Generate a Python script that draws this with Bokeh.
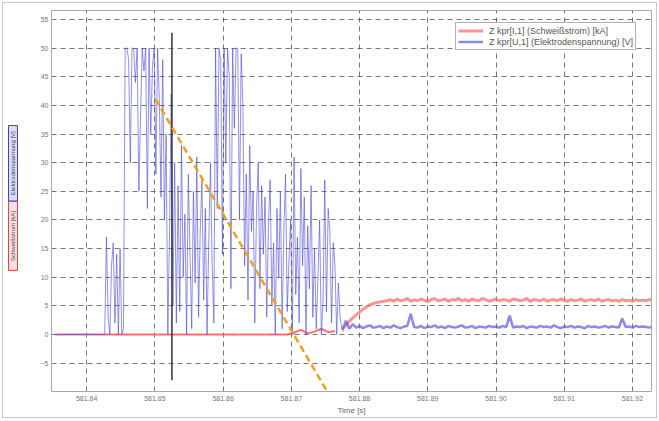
import numpy as np
from bokeh.plotting import figure
from bokeh.layouts import row
from bokeh.models import Range1d, FixedTicker, Arrow, Legend, LegendItem
from bokeh.embed import file_html
from bokeh.resources import INLINE

# ---------------- data ----------------
x_ticks = [581.84, 581.85, 581.86, 581.87, 581.88, 581.89, 581.90, 581.91, 581.92]
x_tick_labels = ["581.84", "581.85", "581.86", "581.87", "581.88", "581.89", "581.90", "581.91", "581.92"]
y_ticks = [-5, 0, 5, 10, 15, 20, 25, 30, 35, 40, 45, 50, 55]

# Elektrodenspannung, burst phase (uniform sampling)
burst_t0 = 581.8354
burst_dt = 0.00025
blue_burst = [
    0, 0, 0, 0, 0, 0, 0, 0, 0, 0, 0, 0, 0, 0, 0, 0, 0, 0, 0, 0, 0, 0, 0, 0, 0, 0, 0, 0,
    0, 0,
    17, 3, 0, 12, 16, 2, 14, 0, 15, 0, 1,
    50, 50, 48, 30, 50, 50, 44, 50, 25, 38, 50, 46, 50, 22, 50, 35, 47, 50, 28, 50, 41, 24,
    48, 20, 35, 0, 18, 42, 5, 30, 2,
    26, 4, 33, 10, 21, 0, 28, 14, 1, 25, 9, 31, 3, 18, 27, 6, 22, 0, 16, 30, 12, 2,
    50, 22, 50, 48, 14, 50, 30, 50, 45, 8, 50, 36, 50, 50, 20, 49,
    40, 12, 28, 6, 33, 18, 25, 2, 22, 30, 8, 26, 14,
    24, 3, 19, 27, 5, 16, 0, 22, 10, 25, 1, 18, 28, 4, 13, 20, 0, 31, 7, 17, 2, 29,
    12, 24, 0, 19, 8, 26, 3, 15, 1, 10, 20, 0, 6,
    27, 4, 22, 18, 2, 16, 12, 0, 9, 3, 1, 0.5,
]

# Schweißstrom before the rise
red_pre_t0 = 581.8354
red_pre_dt = 0.001
red_pre = [0, 0, 0, 0, 0, 0, 0, 0, 0, 0, 0, 0, 0, 0, 0, 0, 0, 0, 0, 0,
           0, 0, 0, 0, 0, 0, 0, 0, 0, 0, 0, 0, 0, 0, 0,
           0.3, 0.8, 0.2, 0.5, 1.0, 0.4, 0.6]

# tail phase (both channels)
tail_t0 = 581.8775
tail_dt = 0.0005
red_tail = [
    1.0, 1.6, 2.3, 2.9, 3.4, 3.9, 4.4, 4.8, 5.2, 5.4, 5.6, 5.7, 5.8, 5.9,
    6.1, 5.8, 6.2, 5.9, 6.0, 6.3, 5.8, 6.1, 5.9, 6.2, 6.0, 5.7, 6.1, 6.3, 5.9, 6.0, 6.2, 5.8, 6.1, 6.0,
    6.3, 5.9, 6.1, 5.8, 6.2, 6.0, 5.9, 6.3, 6.1, 5.8, 6.0, 6.2, 5.9, 6.1, 6.0, 5.8, 6.2, 6.1, 5.9, 6.0,
    6.3, 5.8, 6.1, 6.0, 5.9, 6.2, 5.8, 6.0, 6.1, 5.9, 6.2, 6.0, 5.8, 6.1, 5.9, 6.0, 6.2, 5.8, 6.0, 6.1,
    5.9, 6.2, 5.8, 6.0, 6.1, 5.9, 6.0, 5.8, 6.1, 5.9, 6.0, 5.8, 6.1, 5.9, 6.0, 5.9, 6.1, 6.0,
]
blue_tail = [
    0.8, 2.4, 1.0, 1.8, 1.2, 1.5, 1.1, 1.4, 1.6, 1.2,
    1.3, 1.5, 1.1, 1.4, 1.2, 1.6, 1.3, 1.1, 1.4, 1.5,
    3.6, 1.3, 1.2, 1.5, 1.1, 1.4, 1.3, 1.6, 1.2, 1.4,
    1.1, 1.5, 1.3, 1.2, 1.4, 1.6, 1.2, 1.3, 1.5, 1.1,
    1.4, 1.3, 1.2, 1.5, 1.3, 1.4, 1.2, 1.5, 1.3, 3.3,
    1.2, 1.4, 1.3, 1.5, 1.1, 1.4, 1.3, 1.2, 1.5, 1.3,
    1.4, 1.2, 1.6, 1.3, 1.1, 1.4, 1.3, 1.5, 1.2, 1.4,
    1.3, 1.1, 1.5, 1.3, 1.4, 1.2, 1.3, 1.5, 1.2, 1.4,
    1.3, 1.2, 2.8, 1.3, 1.4, 1.2, 1.5, 1.3, 1.4, 1.3,
    1.2, 1.4,
]

# cursor and overlay marker
cursor_t = 581.8525
cursor_y = [-8.0, 52.7]
overlay_start = (581.8501, 41.1)
overlay_end = (581.8778, -15.1)

legend_red = "Z kpr[I,1] (Schweißstrom) [kA]"
legend_blue = "Z kpr[U,1] (Elektrodenspannung) [V]"
ylab_red = "Schweißstrom [kA]"
ylab_blue = "Elektrodenspannung [V]"
x_title = "Time [s]"

font = "Liberation Sans"

# ---------------- main plot ----------------
t_burst = burst_t0 + burst_dt * np.arange(len(blue_burst))
t_red_pre = red_pre_t0 + red_pre_dt * np.arange(len(red_pre))
t_tail = tail_t0 + tail_dt * np.arange(len(red_tail))

p = figure(width=636, height=414, output_backend="svg", toolbar_location=None,
           x_range=Range1d(581.83485, 581.92279), y_range=Range1d(-9.95, 56.57),
           min_border_left=31, min_border_right=5, min_border_top=7, min_border_bottom=24)
p.background_fill_color = "white"
p.border_fill_color = "white"
p.outline_line_color = "#aaaaaa"

for ax in (p.xaxis[0], p.yaxis[0]):
    ax.major_label_text_font = font
    ax.major_label_text_font_size = "7px"
    ax.major_label_text_color = "#777777"
    ax.axis_line_color = "#aaaaaa"
    ax.major_tick_line_color = None
    ax.minor_tick_line_color = None
    ax.major_tick_out = 0
    ax.major_tick_in = 0
    ax.minor_tick_out = 0
    ax.minor_tick_in = 0
    ax.major_label_standoff = 3

p.xaxis.ticker = FixedTicker(ticks=x_ticks)
p.xaxis.major_label_overrides = {t: s for t, s in zip(x_ticks, x_tick_labels)}
p.xaxis.major_label_standoff = 4
p.yaxis.ticker = FixedTicker(ticks=y_ticks)
p.xaxis.axis_label = x_title
p.xaxis.axis_label_text_font = font
p.xaxis.axis_label_text_font_size = "8px"
p.xaxis.axis_label_text_font_style = "normal"
p.xaxis.axis_label_text_color = "#666666"
p.xaxis.axis_label_standoff = 2

for g in (p.xgrid[0], p.ygrid[0]):
    g.grid_line_color = "#555555"
    g.grid_line_dash = "5 4"
    g.grid_line_alpha = 0.8
    g.grid_line_width = 1

r_red_pre = p.line(t_red_pre, red_pre, line_color="#ff6060", line_width=2, line_alpha=0.9)
r_blue = p.line(t_burst, blue_burst, line_color="#4848dc", line_width=1, line_alpha=0.6)
r_red = p.line(t_tail, red_tail, line_color="#ff7070", line_width=3, line_alpha=0.75)
r_blue_tail = p.line(t_tail, blue_tail, line_color="#5858e0", line_width=2.5, line_alpha=0.7)

p.line([cursor_t, cursor_t], cursor_y, line_color="#333333", line_width=1.5)

legend = Legend(items=[LegendItem(label=legend_red, renderers=[r_red]),
                       LegendItem(label=legend_blue, renderers=[r_blue_tail])],
                location=(404, 341))
legend.label_text_font = font
legend.label_text_font_size = "9px"
legend.label_text_color = "#555555"
legend.label_height = 11
legend.glyph_height = 11
legend.glyph_width = 25
legend.label_standoff = 6
legend.spacing = 0
legend.padding = 2
legend.margin = 0
legend.border_line_color = "#666666"
legend.background_fill_alpha = 1.0
p.add_layout(legend)

p.add_layout(Arrow(x_start=overlay_start[0], y_start=overlay_start[1],
                   x_end=overlay_end[0], y_end=overlay_end[1], end=None,
                   line_color="#f0a020", line_width=2.5, line_dash="7 4"))

# ---------------- left strip with the two channel labels ----------------
pl = figure(width=17, height=414, output_backend="svg", toolbar_location=None,
            x_range=Range1d(0, 17), y_range=Range1d(414, 0),
            x_axis_type=None, y_axis_type=None,
            min_border_left=0, min_border_right=0, min_border_top=0, min_border_bottom=0)
pl.outline_line_color = None
pl.xgrid.visible = False
pl.ygrid.visible = False
pl.background_fill_color = "white"
pl.border_fill_color = "white"

box_x = [9.5, 9.5]
box_y = [166, 245]
box_h = [82, 75]
box_fill = ["#dcdcff", "#ffe0e0"]
box_line = ["#4444bb", "#dd4444"]
box_text = [ylab_blue, ylab_red]
pl.rect(x=box_x, y=box_y, width=9, height=box_h, fill_color=box_fill, line_color=box_line)
pl.text(x=box_x, y=box_y, text=box_text, angle=np.pi / 2, text_align="center",
        text_baseline="middle", text_font_size="6px", text_color="#444444")

layout = row(pl, p, spacing=0)
layout.styles = {"border": "1px solid #c8c8c8", "margin": "2px 0 0 2px"}

open("out.html", "w").write(file_html(layout, INLINE))
